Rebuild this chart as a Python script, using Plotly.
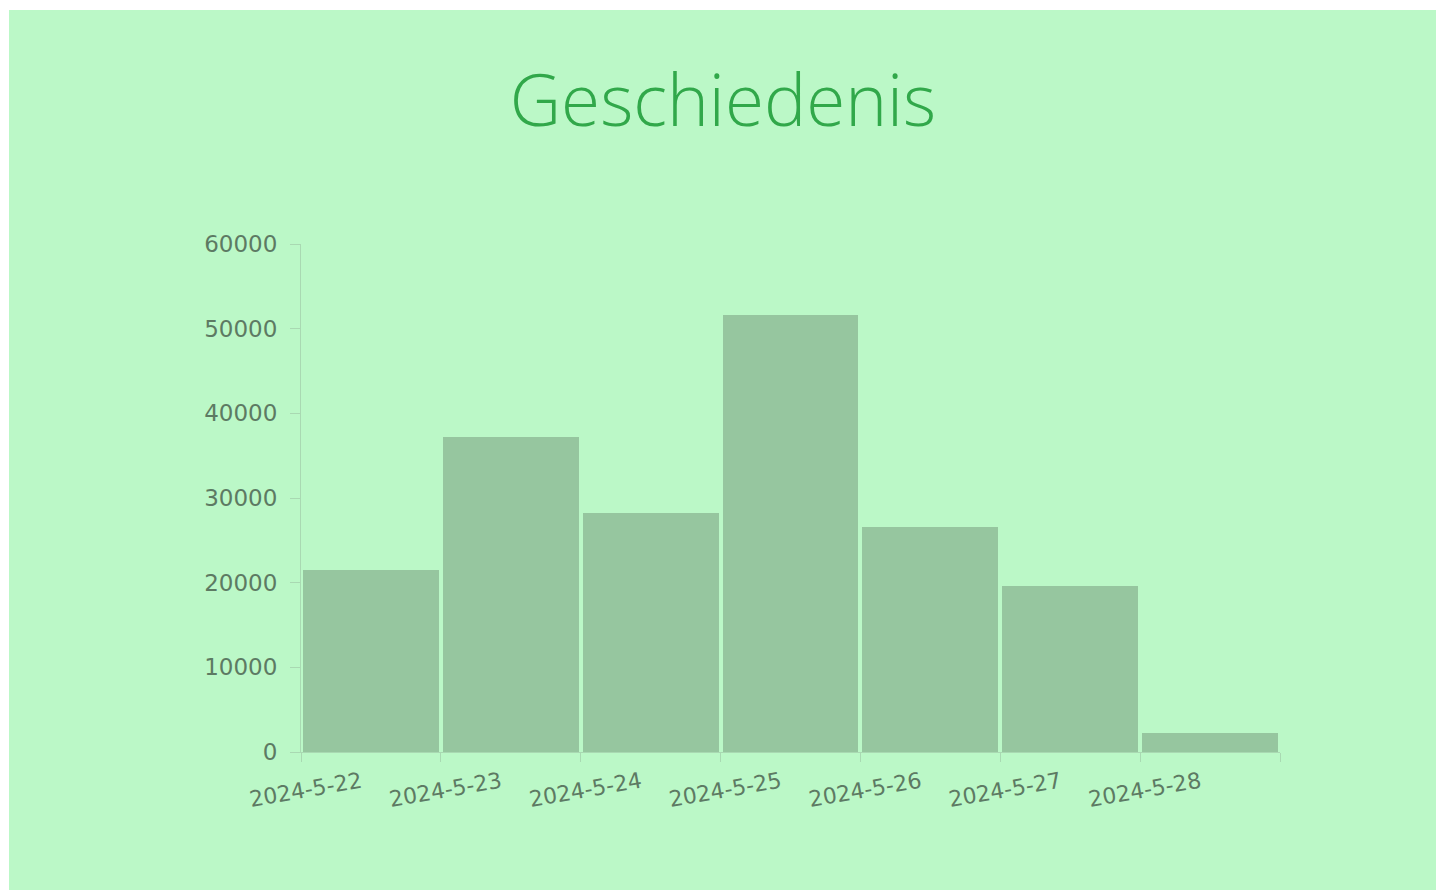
import plotly.graph_objects as go

dates = ["2024-5-22", "2024-5-23", "2024-5-24", "2024-5-25", "2024-5-26", "2024-5-27", "2024-5-28"]
values = [21500, 37200, 28250, 51600, 26600, 19650, 2250]
y_ticks = [0, 10000, 20000, 30000, 40000, 50000, 60000]

W, H = 1436, 890
L, R, T, B = 301, 156, 244, 138
pw, ph = W - L - R, H - T - B

bg = "#bbf8c7"
bar_color = "#96c69f"
axis_color = "#a9d9b2"
text_color = "#5d7a63"

centers = [i + 0.5 for i in range(len(dates))]
label_pos = [i + 0.43 for i in range(len(dates))]
bounds = list(range(len(dates) + 1))

fig = go.Figure()
fig.add_trace(go.Bar(
    x=centers, y=values, width=0.972,
    marker=dict(color=bar_color, line=dict(width=0)),
    hoverinfo="skip", showlegend=False,
))

# green panel with thin white strip at top and left
fig.add_shape(type="rect", xref="paper", yref="paper", layer="below",
              x0=(9 - L) / pw, x1=(W - L) / pw,
              y0=-B / ph, y1=(H - B - 10) / ph,
              fillcolor=bg, line=dict(width=0))

fig.update_layout(
    width=W, height=H,
    margin=dict(l=L, r=R, t=T, b=B, pad=0),
    paper_bgcolor="white",
    plot_bgcolor=bg,
    title=dict(text="Geschiedenis", x=723 / W, xanchor="center", xref="container",
               y=1 - 101 / H, yanchor="middle", yref="container",
               font=dict(family="Open Sans", size=71, color="#31a84a", weight=300)),
    bargap=0,
    xaxis=dict(
        range=[0, 7], tickmode="array", tickvals=label_pos, ticktext=dates,
        tickangle=-10, ticks="", showgrid=False, zeroline=False,
        showline=True, linecolor=axis_color, linewidth=1,
        ticklabelstandoff=8,
        tickfont=dict(family="DejaVu Sans", size=22, color=text_color),
        minor=dict(tickmode="array", tickvals=bounds, ticks="outside", ticklen=9,
                   tickcolor=axis_color, showgrid=False),
        fixedrange=True,
    ),
    yaxis=dict(
        range=[0, 60000], tickmode="array", tickvals=y_ticks,
        ticktext=[str(v) for v in y_ticks],
        ticks="outside", ticklen=10, tickcolor=axis_color,
        ticklabelstandoff=8,
        showgrid=False, zeroline=False,
        showline=True, linecolor=axis_color, linewidth=1,
        tickfont=dict(family="DejaVu Sans", size=23, color=text_color),
        fixedrange=True,
    ),
)

fig.write_html("out.html", config={"displayModeBar": False},
               post_script="document.body.style.margin='0';document.body.style.overflow='hidden';")
